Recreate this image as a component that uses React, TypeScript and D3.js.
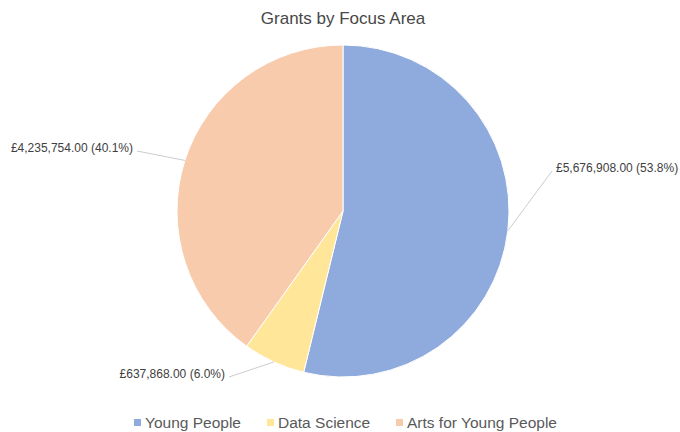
import React from 'react';
import * as d3 from 'd3';

const categories = ['Young People', 'Data Science', 'Arts for Young People'];
const grants = [5676908, 637868, 4235754];
const colors = ['#8FAADC', '#FFE699', '#F8CBAD'];
// where each data label sits, relative to the pie centre
const labelOffsets = [
	{dx: 213, dy: -43, anchor: 'start'},
	{dx: -118, dy: 163, anchor: 'end'},
	{dx: -210, dy: -63, anchor: 'end'},
];

const width = 680;
const height = 432;
const cx = 343;
const cy = 211;
const radius = 166;

const fmt = (v: number) => '£' + d3.format(',.2f')(v);
const pct = d3.format('.1%');

export default function App() {
	const total = d3.sum(grants);
	const pie = d3.pie<number>().sort(null).value(d => d);
	const arcs = pie(grants);
	const arc = d3.arc<d3.PieArcDatum<number>>().innerRadius(0).outerRadius(radius);

	// legend layout
	const legendX = [134, 267, 396];

	return (
		<svg width={width} height={height} style={{position: 'absolute', left: 0, top: 0, fontFamily: 'Liberation Sans, Arial, sans-serif'}}>
			<rect width={width} height={height} fill="#fff" />
			<text x={cx} y={24} textAnchor="middle" fontSize={17} fill="#474747">Grants by Focus Area</text>
			<g transform={`translate(${cx},${cy})`}>
				{arcs.map((a, i) => (
					<path key={i} d={arc(a) || ''} fill={colors[i]} stroke="#fff" strokeWidth={1} />
				))}
				{arcs.map((a, i) => {
					const mid = (a.startAngle + a.endAngle) / 2;
					const px = radius * Math.sin(mid);
					const py = -radius * Math.cos(mid);
					const o = labelOffsets[i];
					const lx = o.anchor === 'start' ? o.dx - 4 : o.dx + 4;
					return (
						<g key={'l' + i}>
							<line x1={px} y1={py} x2={lx} y2={o.dy + 3} stroke="#bfbfbf" strokeWidth={0.8} />
							<text x={o.dx} y={o.dy} dy="0.35em" textAnchor={o.anchor} fontSize={12} fill="#404040">
								{fmt(grants[i])} ({pct(grants[i] / total)})
							</text>
						</g>
					);
				})}
			</g>
			<g>
				{categories.map((c, i) => (
					<g key={c} transform={`translate(${legendX[i]},423)`}>
						<rect x={0} y={-4} width={7} height={7} fill={colors[i]} />
						<text x={11} y={0} dy="0.35em" fontSize={15.5} fill="#595959">{c}</text>
					</g>
				))}
			</g>
		</svg>
	);
}
